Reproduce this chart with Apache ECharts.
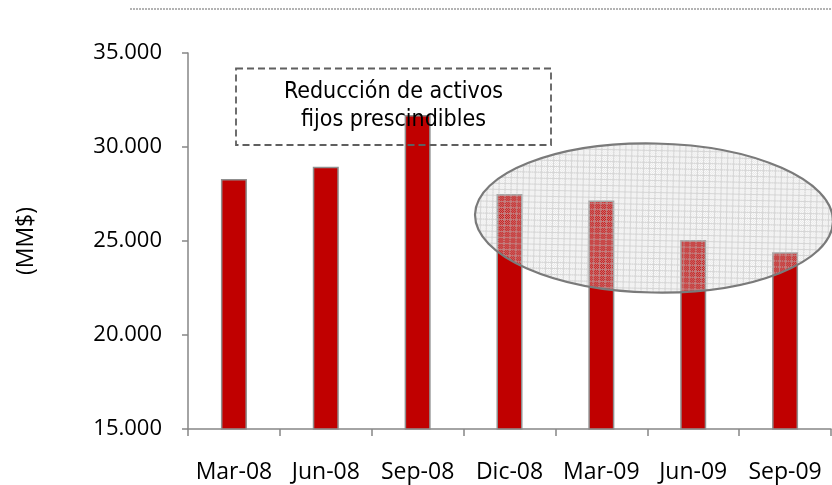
<!DOCTYPE html>
<html>
<head>
<meta charset="utf-8">
<style>
  html, body { margin: 0; padding: 0; background: #ffffff; }
  #chart { width: 832px; height: 485px; }
</style>
<script src="https://cdn.jsdelivr.net/npm/echarts@6/dist/echarts.min.js"></script>
</head>
<body>
<div id="chart"></div>
<script>
// Quarterly fixed assets, millions of dollars
const categories = ['Mar-08', 'Jun-08', 'Sep-08', 'Dic-08', 'Mar-09', 'Jun-09', 'Sep-09'];
const assetValues = [28300, 28950, 31700, 27500, 27150, 25050, 24400];
const yTicks = { min: 15000, max: 35000, step: 5000 };
const axisName = '(MM$)';
const noteLines = ['Reducción de activos', 'fijos prescindibles'];

// Thousands separator with a dot: 35000 -> "35.000"
function fmtThousands(v) {
  return String(v).replace(/\B(?=(\d{3})+(?!\d))/g, '.');
}

// Small tiled texture for the highlight ellipse: grey grid with a
// half-transparent dither so the bars underneath show through.
function makeTexture() {
  const size = 6;
  const c = document.createElement('canvas');
  c.width = size; c.height = size;
  const ctx = c.getContext('2d');
  for (let y = 0; y < size; y++) {
    for (let x = 0; x < size; x++) {
      if (x === 0 || y === 0) {
        ctx.fillStyle = 'rgba(192,192,192,0.65)';
      } else if ((x + y) % 2 === 0) {
        ctx.fillStyle = 'rgba(214,214,214,0.55)';
      } else {
        ctx.fillStyle = 'rgba(230,230,230,0.12)';
      }
      ctx.fillRect(x, y, 1, 1);
    }
  }
  return c;
}

const chart = echarts.init(document.getElementById('chart'), null, { renderer: 'canvas' });

const axisGrey = '#868686';
const labelFont = '"Open Sans", "Liberation Sans", sans-serif';
const noteFont = '"DejaVu Sans Condensed", "DejaVu Sans", sans-serif';

chart.setOption({
  animation: false,
  backgroundColor: '#ffffff',
  grid: { left: 188, right: 1, top: 53, bottom: 56, containLabel: false },
  xAxis: {
    type: 'category',
    data: categories,
    boundaryGap: true,
    axisLine: { show: true, lineStyle: { color: axisGrey, width: 1.5 } },
    axisTick: { show: true, alignWithLabel: false, length: 7, lineStyle: { color: axisGrey, width: 1.5 } },
    axisLabel: {
      interval: 0, hideOverlap: false,
      color: '#000000', fontFamily: labelFont, fontSize: 23, margin: 32
    },
    splitLine: { show: false }
  },
  yAxis: {
    type: 'value',
    min: yTicks.min,
    max: yTicks.max,
    interval: yTicks.step,
    axisLine: { show: true, lineStyle: { color: axisGrey, width: 1.5 } },
    axisTick: { show: true, length: 6, lineStyle: { color: axisGrey, width: 1.5 } },
    axisLabel: {
      color: '#000000', fontFamily: labelFont, fontSize: 22, margin: 26,
      formatter: fmtThousands
    },
    splitLine: { show: false },
    name: axisName,
    nameLocation: 'middle',
    nameRotate: 90,
    nameGap: 150,
    nameTextStyle: { color: '#000000', fontFamily: labelFont, fontSize: 23 }
  },
  series: [{
    type: 'bar',
    data: assetValues,
    barWidth: 26,
    itemStyle: { color: '#C00000', borderColor: '#8f8f8f', borderWidth: 1.5 },
    z: 2
  }],
  graphic: [
    // dotted rule across the top
    {
      type: 'line',
      shape: { x1: 130, y1: 9, x2: 832, y2: 9 },
      style: { stroke: '#9a9a9a', lineWidth: 1.5, lineDash: [2, 1] },
      z: 10
    },
    // highlight ellipse over the later quarters
    {
      type: 'ellipse',
      shape: { cx: 654, cy: 218, rx: 179, ry: 74.5 },
      rotation: -0.02,
      originX: 654, originY: 218,
      style: {
        fill: { image: makeTexture(), repeat: 'repeat' },
        stroke: '#7a7a7a',
        lineWidth: 2.2
      },
      z: 20
    },
    // dashed note box
    {
      type: 'rect',
      shape: { x: 236, y: 68.5, width: 315, height: 76.5 },
      style: { fill: 'transparent', stroke: '#5f5f5f', lineWidth: 1.8, lineDash: [7, 4] },
      z: 30
    },
    {
      type: 'text',
      x: 393.5, y: 92.5,
      style: {
        text: noteLines[0],
        fill: '#000000', font: '23px ' + noteFont,
        align: 'center', verticalAlign: 'middle'
      },
      z: 31
    },
    {
      type: 'text',
      x: 393.5, y: 120,
      style: {
        text: noteLines[1],
        fill: '#000000', font: '23px ' + noteFont,
        align: 'center', verticalAlign: 'middle'
      },
      z: 31
    }
  ]
});
</script>
</body>
</html>
